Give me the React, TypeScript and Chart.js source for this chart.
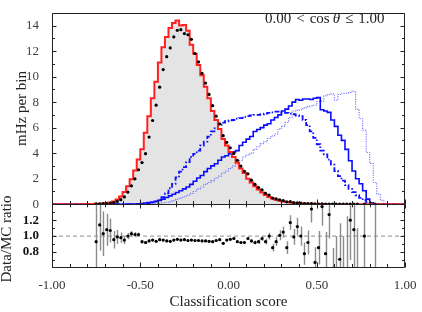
import React, { useEffect, useRef } from 'react';
import { Chart, registerables } from 'chart.js';

Chart.register(...registerables);

// ---- binning ----
const BIN_LOW = -1;
const BIN_WIDTH = 0.02;
const N_BINS = 100;

// ---- tick labels ----
const xTickValues = [-1, -0.5, 0, 0.5, 1];
const yTopTicks = [0, 2, 4, 6, 8, 10, 12, 14];
const yRatioTicks = [0.8, 1.0, 1.2];

// ---- series (one value per bin) ----
const mcValues = [
  0, 0, 0, 0, 0, 0, 0, 0, 0, 0, 0,
  0.01, 0.02, 0.03, 0.04, 0.05, 0.08, 0.13, 0.22, 0.36,
  0.6, 0.95, 1.4, 1.95, 2.65, 3.5, 4.3, 5.6, 6.9, 8.3,
  9.6, 11.1, 12.3, 13.1, 13.8, 14.2, 14.4, 14.0, 14.05, 13.6,
  12.5, 11.8, 10.9, 10.1, 9.2, 8.3, 7.3, 6.6, 5.9, 5.1,
  4.6, 4.1, 3.7, 3.25, 2.8, 2.45, 2.0, 1.7, 1.4, 1.15,
  0.92, 0.72, 0.56, 0.44, 0.35, 0.28, 0.22, 0.17, 0.13, 0.1,
  0.08, 0.06, 0.05, 0.04, 0.03, 0.02, 0.015, 0.01, 0.01, 0.005,
  0.005, 0, 0, 0, 0, 0, 0, 0, 0, 0,
  0, 0, 0, 0, 0, 0, 0, 0, 0, 0,
];

const dataValues = [
  null, null, null, null, null, null, null, null, null, null, null, null,
  0.02, 0.034, 0.041, 0.054, 0.086, 0.124, 0.218, 0.353,
  0.57, 0.95, 1.44, 1.99, 2.7, 3.26, 3.96, 5.26, 6.56, 7.76,
  9.17, 10.55, 11.56, 12.25, 13.11, 13.63, 13.68, 13.37, 13.28, 12.92,
  11.81, 11.15, 10.25, 9.49, 8.6, 7.72, 6.9, 6.3, 5.37, 4.85,
  4.42, 3.98, 3.44, 2.99, 2.58, 2.38, 1.88, 1.56, 1.3, 1.12,
  0.86, 0.72, 0.48, 0.41, 0.35, 0.29, 0.19, 0.2, 0.13, 0.11,
  0.08, 0.047, 0.046, 0.054, 0.02, 0.017, 0.02, 0.008, 0.013, 0.002,
  0.003, 0.004, 0.002, 0.002, 0.004, 0.003, 0.001, null, 0.002, null,
  null, 0.001, null, null, null, null, null, null, null, null,
];

const signalSolid = [
  0, 0, 0, 0, 0, 0, 0, 0, 0, 0, 0, 0, 0, 0, 0, 0, 0, 0, 0, 0, 0, 0, 0,
  0.01, 0.02, 0.04, 0.06, 0.09, 0.12, 0.17,
  0.23, 0.3, 0.4, 0.52, 0.65, 0.78, 0.92, 1.05, 1.2, 1.35,
  1.55, 1.8, 2.05, 2.25, 2.55, 2.8, 3.0, 3.17, 3.45, 3.7,
  3.8, 3.95, 4.1, 4.2, 4.6, 4.85, 5.1, 5.3, 5.7, 5.85,
  6.0, 6.2, 6.3, 6.6, 6.8, 7.0, 7.3, 7.45, 7.7, 8.0,
  8.2, 8.15, 8.25, 8.25, 8.2, 8.3, 8.35, 7.4, 7.3, 7.2,
  6.6, 6.1, 5.4, 5.0, 4.3, 3.4, 2.6, 2.0, 1.6, 1.05,
  0.4, 0.1, 0.03, 0, 0, 0, 0, 0, 0, 0,
];

const signalDashed = [
  0, 0, 0, 0, 0, 0, 0, 0, 0, 0, 0, 0, 0, 0, 0, 0, 0, 0, 0, 0, 0, 0, 0, 0, 0,
  0.01, 0.02, 0.04, 0.07, 0.12,
  0.2, 0.35, 0.55, 0.85, 1.25, 1.6, 2.1, 2.55, 2.9, 3.3,
  3.7, 3.95, 4.2, 4.6, 4.9, 5.3, 5.7, 5.95, 6.2, 6.4,
  6.5, 6.57, 6.6, 6.7, 6.75, 6.85, 6.9, 6.95, 7.0, 7.0,
  7.05, 7.1, 7.15, 7.2, 7.25, 7.25, 7.2, 7.15, 7.1, 7.05,
  6.95, 6.9, 6.6, 6.2, 5.7, 5.2, 4.7, 4.2, 3.9, 3.5,
  3.1, 2.6, 2.2, 1.85, 1.5, 1.2, 0.95, 0.7, 0.5, 0.32,
  0.15, 0.05, 0.02, 0, 0, 0, 0, 0, 0, 0,
];

const signalDotted = [
  0, 0, 0, 0, 0, 0, 0, 0, 0, 0, 0, 0, 0, 0, 0, 0, 0, 0, 0, 0, 0, 0, 0, 0, 0, 0, 0,
  0.01, 0.02, 0.03,
  0.05, 0.08, 0.11, 0.15, 0.2, 0.28, 0.38, 0.48, 0.58, 0.7,
  0.85, 1.0, 1.2, 1.35, 1.55, 1.7, 1.85, 2.05, 2.2, 2.45,
  2.6, 2.8, 3.0, 3.15, 3.4, 3.7, 3.85, 4.0, 4.3, 4.5,
  4.75, 4.9, 5.15, 5.35, 5.5, 5.9, 6.1, 6.4, 6.8, 7.3,
  7.35, 7.4, 7.55, 7.65, 7.7, 7.75, 8.05, 8.1, 8.5, 8.6,
  8.65, 8.15, 8.6, 8.7, 8.7, 8.75, 8.85, 7.45, 6.7, 5.8,
  4.05, 3.2, 1.7, 0.8, 0.3, 0.06, 0, 0, 0, 0,
];

const ratioValues = [
  null, null, null, null, null, null, null, null, null, null, null, null,
  0.93, 1.14, 1.03, 1.08, 1.07, 0.955, 0.99, 0.98,
  0.95, 1.0, 1.03, 1.02, 1.02, 0.93, 0.92, 0.94, 0.95, 0.935,
  0.955, 0.95, 0.94, 0.935, 0.95, 0.96, 0.95, 0.955, 0.945, 0.95,
  0.945, 0.945, 0.94, 0.94, 0.935, 0.93, 0.945, 0.955, 0.91, 0.95,
  0.96, 0.97, 0.93, 0.92, 0.92, 0.97, 0.94, 0.92, 0.93, 0.97,
  0.93, 1.0, 0.855, 0.93, 1.01, 1.05, 0.855, 1.17, 0.99, 1.12,
  1.0, 0.78, 0.92, 1.34, 0.67, 0.855, 1.37, 0.78, 1.27, 0.45,
  0.5, 0.71, 0.4, 0.45, 1.2, 1.08, 0.3, null, 1.0, null,
  null, 0.2, null, null, null, null, null, null, null, null,
];

const ratioErrors = [
  null, null, null, null, null, null, null, null, null, null, null, null,
  0.5, 0.32, 0.28, 0.2, 0.15, 0.11, 0.085, 0.065,
  0.05, 0.04, 0.034, 0.03, 0.026, 0.022, 0.02, 0.017, 0.015, 0.015,
  0.015, 0.015, 0.015, 0.015, 0.015, 0.015, 0.015, 0.015, 0.015, 0.015,
  0.015, 0.015, 0.015, 0.015, 0.015, 0.015, 0.016, 0.016, 0.016, 0.016,
  0.016, 0.017, 0.017, 0.017, 0.017, 0.02, 0.022, 0.025, 0.028, 0.032,
  0.036, 0.042, 0.048, 0.055, 0.062, 0.07, 0.08, 0.09, 0.1, 0.11,
  0.12, 0.14, 0.15, 0.17, 0.19, 0.21, 0.24, 0.27, 0.3, 0.4,
  0.5, 0.45, 0.6, 0.8, 0.5, 0.6, 0.8, null, 0.9, null,
  null, 1.5, null, null, null, null, null, null, null, null,
];

const binEdges = Array.from({ length: N_BINS + 1 }, (_, k) => BIN_LOW + k * BIN_WIDTH);
const binCenters = Array.from({ length: N_BINS }, (_, i) => BIN_LOW + (i + 0.5) * BIN_WIDTH);
const toSteps = (vals: number[]) =>
  binEdges.map((e, k) => ({ x: e, y: vals[Math.min(k, N_BINS - 1)] }));
const toPoints = (vals: (number | null)[]) =>
  binCenters.map((c, i) => ({ x: c, y: vals[i] }));

const FONT = "'Liberation Serif', 'Times New Roman', serif";
const INK = '#222';

const decorPlugin = {
  id: 'decor',
  beforeDatasetsDraw(chart: any) {
    const { ctx } = chart;
    const xs = chart.scales.x;
    const yr = chart.scales.yr;
    ctx.save();
    ctx.beginPath();
    ctx.rect(xs.left, yr.top, xs.right - xs.left, yr.bottom - yr.top);
    ctx.clip();
    ctx.strokeStyle = '#8c8c8c';
    ctx.lineWidth = 1.4;
    ratioValues.forEach((r, i) => {
      const e = ratioErrors[i];
      if (r == null || e == null) return;
      const X = Math.round(xs.getPixelForValue(binCenters[i])) + 0.5;
      ctx.beginPath();
      ctx.moveTo(X, yr.getPixelForValue(r - e));
      ctx.lineTo(X, yr.getPixelForValue(r + e));
      ctx.stroke();
    });
    ctx.restore();
  },
  afterDraw(chart: any) {
    const { ctx } = chart;
    const xs = chart.scales.x;
    const yt = chart.scales.y;
    const yr = chart.scales.yr;
    const L = Math.round(xs.left) + 0.5;
    const R = Math.round(xs.right) - 0.5;
    const T1 = Math.round(yt.top) + 0.5;
    const B1 = Math.round(yt.bottom) + 0.5;
    const B2 = Math.round(yr.bottom) - 0.5;
    ctx.save();
    ctx.strokeStyle = INK;
    ctx.lineWidth = 1;
    ctx.beginPath();
    ctx.rect(L, T1, R - L, B2 - T1);
    ctx.moveTo(L, B1);
    ctx.lineTo(R, B1);
    ctx.stroke();

    ctx.beginPath();
    // x ticks every 0.1
    for (let k = -10; k <= 10; k++) {
      const X = Math.round(xs.getPixelForValue(k / 10)) + 0.5;
      const len = k % 5 === 0 ? 5 : 3.5;
      ctx.moveTo(X, B1); ctx.lineTo(X, B1 - len);
      ctx.moveTo(X, B1); ctx.lineTo(X, B1 + len * 0.8);
      ctx.moveTo(X, B2); ctx.lineTo(X, B2 - len);
    }
    // upper y ticks
    for (let v = 1; v <= 15; v++) {
      const Y = Math.round(yt.getPixelForValue(v)) + 0.5;
      const len = v % 2 === 0 ? 4 : 2.5;
      ctx.moveTo(L, Y); ctx.lineTo(L + len, Y);
      ctx.moveTo(R, Y); ctx.lineTo(R - len, Y);
    }
    // ratio y ticks
    for (let k = 7; k <= 13; k++) {
      const Y = Math.round(yr.getPixelForValue(k / 10)) + 0.5;
      const len = k % 2 === 0 ? 4 : 2.5;
      ctx.moveTo(L, Y); ctx.lineTo(L + len, Y);
      ctx.moveTo(R, Y); ctx.lineTo(R - len, Y);
    }
    ctx.stroke();

    // titles
    ctx.fillStyle = INK;
    ctx.font = `15px ${FONT}`;
    ctx.textAlign = 'center';
    ctx.textBaseline = 'alphabetic';
    ctx.fillText('Classification score', (xs.left + xs.right) / 2, 306);

    ctx.save();
    ctx.translate(26, (yt.top + yt.bottom) / 2);
    ctx.rotate(-Math.PI / 2);
    ctx.fillText('mHz per bin', 0, 0);
    ctx.restore();

    ctx.save();
    ctx.translate(11, 239);
    ctx.rotate(-Math.PI / 2);
    ctx.fillText('Data/MC ratio', 0, 0);
    ctx.restore();

    // annotation
    ctx.textAlign = 'left';
    const pieces: [string, boolean, number][] = [
      ['0.00', false, 5], ['<', false, 5], ['cos', false, 3], ['θ', true, 5],
      ['≤', false, 5], ['1.00', false, 0],
    ];
    let x = 265;
    for (const [t, it, gap] of pieces) {
      ctx.font = `${it ? 'italic ' : ''}15px ${FONT}`;
      ctx.fillText(t, x, 23);
      x += ctx.measureText(t).width + gap;
    }
    ctx.restore();
  },
};

export default function App() {
  const ref = useRef<HTMLCanvasElement>(null);
  useEffect(() => {
    const step = {
      type: 'line' as const,
      stepped: 'after' as const,
      pointRadius: 0,
      fill: false,
      yAxisID: 'y',
    };
    const chart = new Chart(ref.current as HTMLCanvasElement, {
      type: 'line',
      data: {
        datasets: [
          { ...step, label: 'MC fill', data: toSteps(mcValues), fill: 'origin', backgroundColor: '#e4e4e4', borderWidth: 0, borderColor: 'rgba(0,0,0,0)', order: 10 },
          { ...step, label: 'Signal dotted', data: toSteps(signalDotted), borderColor: '#7373ff', borderWidth: 1.1, borderDash: [1.2, 1.2], order: 6 },
          { ...step, label: 'Signal dashed', data: toSteps(signalDashed), borderColor: '#1010ff', borderWidth: 1.8, borderDash: [5, 2, 1.5, 2], order: 5 },
          { ...step, label: 'Signal', data: toSteps(signalSolid), borderColor: '#0a0aff', borderWidth: 1.6, order: 4 },
          { ...step, label: 'MC', data: toSteps(mcValues), borderColor: '#ff2020', borderWidth: 2, order: 3 },
          { type: 'line', label: 'Data', data: toPoints(dataValues), showLine: false, pointRadius: 1.6, pointBackgroundColor: '#000', pointBorderWidth: 0, yAxisID: 'y', order: 1 },
          { type: 'line', label: 'Unity', data: [{ x: -1, y: 1 }, { x: 1, y: 1 }], borderColor: '#8c8c8c', borderWidth: 1, borderDash: [4, 3], pointRadius: 0, yAxisID: 'yr', order: 7 },
          { type: 'line', label: 'Ratio', data: toPoints(ratioValues), showLine: false, pointRadius: 1.6, pointBackgroundColor: '#000', pointBorderWidth: 0, yAxisID: 'yr', order: 1 },
        ] as any,
      },
      options: {
        animation: false,
        responsive: false,
        devicePixelRatio: 1,
        events: [],
        layout: { padding: { left: 0, right: 17, top: 3, bottom: 0 } },
        plugins: { legend: { display: false }, tooltip: { enabled: false } },
        scales: {
          x: {
            type: 'linear', min: -1, max: 1, position: 'bottom',
            grid: { display: false }, border: { display: false },
            afterFit: (s: any) => { s.height = 44; },
            afterBuildTicks: (s: any) => { s.ticks = xTickValues.map((v) => ({ value: v })); },
            ticks: {
              autoSkip: false, maxRotation: 0, padding: 2, color: '#333',
              font: { family: FONT, size: 13 },
              callback: (v: any) => Number(v).toFixed(2),
            },
          },
          yr: {
            type: 'linear', min: 0.6, max: 1.4, position: 'left', stack: 'panels', stackWeight: 1,
            grid: { display: false }, border: { display: false },
            afterFit: (s: any) => { s.width = 52; },
            afterBuildTicks: (s: any) => { s.ticks = yRatioTicks.map((v) => ({ value: v })); },
            ticks: { autoSkip: false, padding: 5, color: '#111', font: { family: FONT, size: 13, weight: 'bold' }, callback: (v: any) => Number(v).toFixed(1) },
          },
          y: {
            type: 'linear', min: 0, max: 15, position: 'left', stack: 'panels', stackWeight: 3,
            grid: { display: false }, border: { display: false },
            afterFit: (s: any) => { s.width = 52; },
            afterBuildTicks: (s: any) => { s.ticks = yTopTicks.map((v) => ({ value: v })); },
            ticks: { autoSkip: false, padding: 5, color: '#444', font: { family: FONT, size: 13 }, callback: (v: any) => String(v) },
          },
        },
      } as any,
      plugins: [decorPlugin],
    });
    return () => chart.destroy();
  }, []);
  return (
    <div style={{ position: 'fixed', left: 0, top: 0, width: 422, height: 312, background: '#fff' }}>
      <canvas ref={ref} width={422} height={312} style={{ display: 'block' }} />
    </div>
  );
}
